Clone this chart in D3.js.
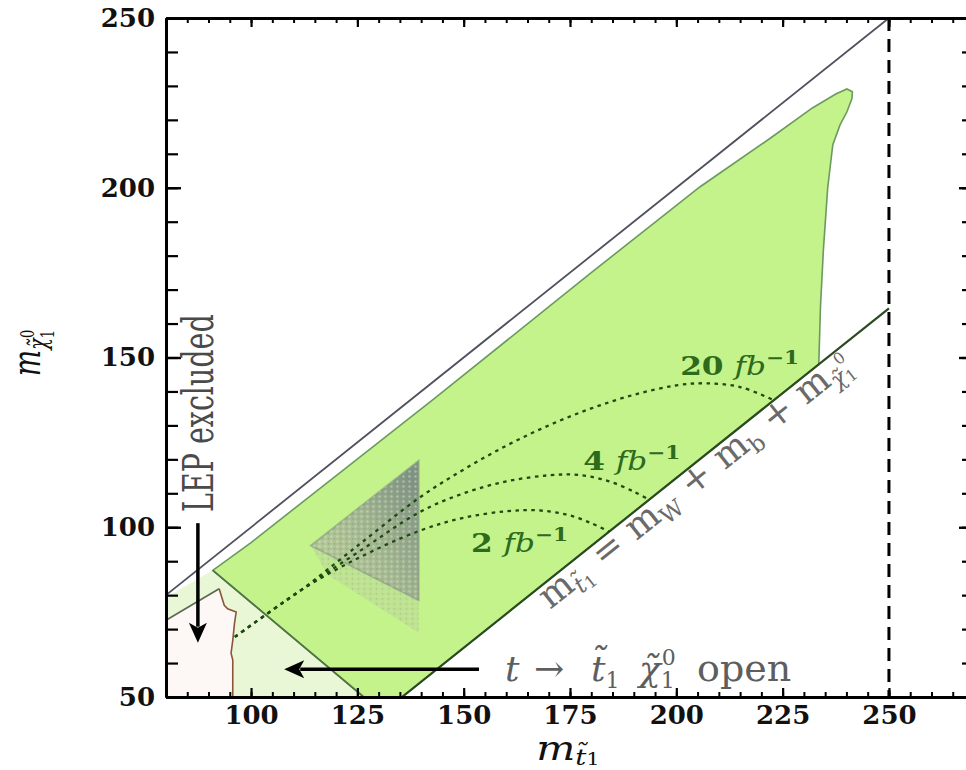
<!DOCTYPE html>
<html><head><meta charset="utf-8">
<script src="https://cdn.jsdelivr.net/npm/d3@7"></script>
<style>
html,body{margin:0;padding:0;background:#fff;}
svg{display:block;font-family:"DejaVu Serif",serif;}
</style></head><body>
<svg id="chart" width="966" height="770"></svg>
<script>
// ---------------- data ----------------
const xDomain = [80, 270];
const yDomain = [50, 250];
const xMajorTicks = [100, 125, 150, 175, 200, 225, 250];
const xTickLabels = ["100", "125", "150", "175", "200", "225", "250"];
const yMajorTicks = [50, 100, 150, 200, 250];
const yTickLabels = ["50", "100", "150", "200", "250"];
const xMinorStep = 5;
const yMinorStep = 10;

// m_chi = m_stop
const degenerateLine = [[80, 80], [250, 250]];
// m_stop = mW + mb + m_chi
const threeBodyLine = [[135.5, 50], [250, 164.5]];
// t -> stop chi kinematic edge
const topDecayLine = [[91, 87.3], [126.5, 50]];
// LEP exclusion contour
const lepCurve = [[80, 72.6], [92.5, 81.9], [93.7, 77.0], [94.5, 76.0], [96.5, 75.0], [96.1, 71.6],
                  [95.7, 66.7], [95.3, 62.9], [95.7, 60.9], [95.7, 50]];
// green (reach) region
const greenRegion = [[91, 87.3], [100, 95.5], [143, 137.8], [180, 175], [205.6, 200.3], [222, 214.5],
                     [232, 223.5], [237.5, 227.6], [240.1, 229.1], [241.4, 228.3], [241.3, 226.3],
                     [240.1, 222.3], [238.5, 218.5], [236.8, 212.7], [235.6, 200], [234.6, 182],
                     [233.9, 165], [233.5, 148], [135.5, 50], [126.5, 50]];
// pale (t -> stop chi open) region, upper-left edge
const paleTop = [[80, 79.4], [91, 87.3], [126.5, 50], [95.7, 50]];
// scan points (grey triangle)
const scanTriangle = [[114.1, 94.6], [139.4, 119.6], [139.4, 78.5]];
const scanTail = [[114.1, 94.6], [139.4, 78.5], [139.4, 69], [118, 86]];
// discovery contours
const curve2 = [[96.2, 67.7], [105, 75.6], [112, 81.7], [125, 90.8], [139.7, 99.0], [150, 102.8],
                [160, 104.7], [167, 105.0], [174, 103.8], [180, 101.2], [184.2, 98.7]];
const curve4 = [[96.2, 67.7], [105, 75.6], [112, 81.7], [125, 92.5], [139.7, 104.5], [150, 110],
                [160, 113.5], [170, 115.3], [177, 115.4], [184, 113.6], [190, 110.5], [193.5, 108.2]];
const curve20 = [[96.2, 67.7], [105, 75.6], [112, 81.7], [125, 94.5], [139.7, 108.8], [150, 117],
                 [160, 124], [170, 130], [180, 135], [190, 139], [200, 141.8], [207, 142.4],
                 [215, 141.3], [222.8, 137.5]];
const lumiLabels = ["2", "4", "20"];
const massLimitX = 250;

// ---------------- drawing ----------------
const svg = d3.select("#chart");
const x = d3.scaleLinear().domain(xDomain).range([166, 974]);
const y = d3.scaleLinear().domain(yDomain).range([697, 18]);
const line = d3.line().x(d => x(d[0])).y(d => y(d[1]));
const smooth = d3.line().x(d => x(d[0])).y(d => y(d[1])).curve(d3.curveCatmullRom);

const defs = svg.append("defs");
defs.append("clipPath").attr("id", "plotclip").append("rect")
  .attr("x", x(xDomain[0])).attr("y", y(yDomain[1]))
  .attr("width", x(xDomain[1]) - x(xDomain[0])).attr("height", y(yDomain[0]) - y(yDomain[1]));
const grad = defs.append("linearGradient").attr("id", "scangrad")
  .attr("x1", "1").attr("y1", "0.2").attr("x2", "0.1").attr("y2", "0.9");
grad.append("stop").attr("offset", "0").attr("stop-color", "#7a8a84");
grad.append("stop").attr("offset", "0.5").attr("stop-color", "#a3b394");
grad.append("stop").attr("offset", "1").attr("stop-color", "#b9cc9a");
const pat = defs.append("pattern").attr("id", "speckle").attr("width", 6).attr("height", 5)
  .attr("patternUnits", "userSpaceOnUse");
pat.append("circle").attr("cx", 1.5).attr("cy", 1.5).attr("r", 1.2).attr("fill", "#d4e8b6");
pat.append("circle").attr("cx", 4.5).attr("cy", 3.8).attr("r", 0.9).attr("fill", "#7d8f7a");

const plot = svg.append("g").attr("clip-path", "url(#plotclip)");

// LEP excluded (very faint pink)
plot.append("path").datum([[80, 50]].concat(lepCurve))
  .attr("d", d => line(d) + "Z").attr("fill", "#fdf7f5");
// pale region
plot.append("path").datum(paleTop.concat(lepCurve.slice().reverse()))
  .attr("d", d => line(d) + "Z").attr("fill", "#eaf7d6");
// green region
plot.append("path").datum(greenRegion)
  .attr("d", d => line(d) + "Z").attr("fill", "#c4f28b")
  .attr("stroke", "#6c9a5e").attr("stroke-width", 1.6);
// scan triangle
plot.append("path").datum(scanTail).attr("d", d => line(d) + "Z")
  .attr("fill", "#b5cc98").attr("opacity", 0.4);
plot.append("path").datum(scanTail).attr("d", d => line(d) + "Z")
  .attr("fill", "url(#speckle)").attr("opacity", 0.3);
plot.append("path").datum(scanTriangle).attr("d", d => line(d) + "Z")
  .attr("fill", "url(#scangrad)").attr("opacity", 0.92)
  .attr("stroke", "#7f8f86").attr("stroke-width", 2).attr("stroke-opacity", 0.6);
plot.append("path").datum(scanTriangle).attr("d", d => line(d) + "Z")
  .attr("fill", "url(#speckle)").attr("opacity", 0.5);

// lines
plot.append("path").datum(degenerateLine).attr("d", line)
  .attr("stroke", "#50505e").attr("stroke-width", 1.8).attr("fill", "none");
plot.append("path").datum(threeBodyLine).attr("d", line)
  .attr("stroke", "#2a4a22").attr("stroke-width", 2.2).attr("fill", "none");
plot.append("path").datum(topDecayLine).attr("d", line)
  .attr("stroke", "#4f7446").attr("stroke-width", 1.8).attr("fill", "none");
plot.append("path").datum(lepCurve.slice(0, 2)).attr("d", line)
  .attr("stroke", "#5d6a55").attr("stroke-width", 1.8).attr("fill", "none");
plot.append("path").datum(lepCurve.slice(1)).attr("d", line)
  .attr("stroke", "#8a5538").attr("stroke-width", 1.6).attr("fill", "none");

// discovery curves
[curve2, curve4, curve20].forEach(c => {
  plot.append("path").datum(c).attr("d", smooth)
    .attr("stroke", "#1d4a10").attr("stroke-width", 2.3).attr("fill", "none")
    .attr("stroke-dasharray", "3.5,4.5");
});

// vertical dashed line
plot.append("line").attr("x1", x(massLimitX)).attr("x2", x(massLimitX))
  .attr("y1", y(yDomain[1])).attr("y2", y(yDomain[0]))
  .attr("stroke", "#000").attr("stroke-width", 3).attr("stroke-dasharray", "13,8");

// ---------------- axes ----------------
const xMinor = d3.range(xDomain[0], xDomain[1] + 0.1, xMinorStep);
const yMinor = d3.range(yDomain[0], yDomain[1] + 0.1, yMinorStep);
function styleAxis(g, w) {
  g.selectAll(".domain").attr("stroke", "#000").attr("stroke-width", 3);
  g.selectAll(".tick line").attr("stroke", "#000").attr("stroke-width", w);
}
const fmtX = (d) => xTickLabels[xMajorTicks.indexOf(d)];
const fmtY = (d) => yTickLabels[yMajorTicks.indexOf(d)];

const gB = svg.append("g").attr("transform", `translate(0,${y(yDomain[0])})`);
gB.call(d3.axisBottom(x).tickValues(xMinor).tickSize(-5).tickSizeOuter(0).tickFormat(""));
styleAxis(gB, 2);
const gB2 = svg.append("g").attr("transform", `translate(0,${y(yDomain[0])})`);
gB2.call(d3.axisBottom(x).tickValues(xMajorTicks).tickSize(-9).tickSizeOuter(0).tickPadding(8).tickFormat(fmtX));
styleAxis(gB2, 2.2);
gB2.selectAll("text").attr("font-family", "DejaVu Serif").attr("font-weight", "bold")
  .attr("font-size", 26).attr("fill", "#111").attr("dy", "0.72em");

const gT = svg.append("g").attr("transform", `translate(0,${y(yDomain[1])})`);
gT.call(d3.axisTop(x).tickValues(xMinor).tickSize(-5).tickSizeOuter(0).tickFormat(""));
styleAxis(gT, 2);
const gT2 = svg.append("g").attr("transform", `translate(0,${y(yDomain[1])})`);
gT2.call(d3.axisTop(x).tickValues(xMajorTicks).tickSize(-9).tickSizeOuter(0).tickFormat(""));
styleAxis(gT2, 2.2);

const gL = svg.append("g").attr("transform", `translate(${x(xDomain[0])},0)`);
gL.call(d3.axisLeft(y).tickValues(yMinor).tickSize(-12).tickSizeOuter(0).tickFormat(""));
styleAxis(gL, 2.2);
const gL2 = svg.append("g").attr("transform", `translate(${x(xDomain[0])},0)`);
gL2.call(d3.axisLeft(y).tickValues(yMajorTicks).tickSize(-15).tickSizeOuter(0).tickPadding(11).tickFormat(fmtY));
styleAxis(gL2, 2.4);
gL2.selectAll("text").attr("font-family", "DejaVu Serif").attr("font-weight", "bold")
  .attr("font-size", 26).attr("fill", "#111");

const gR = svg.append("g").attr("transform", `translate(${x(xDomain[1])},0)`);
gR.call(d3.axisRight(y).tickValues(yMinor).tickSize(-12).tickSizeOuter(0).tickFormat(""));
styleAxis(gR, 2.2);
const gR2 = svg.append("g").attr("transform", `translate(${x(xDomain[1])},0)`);
gR2.call(d3.axisRight(y).tickValues(yMajorTicks).tickSize(-15).tickSizeOuter(0).tickFormat(""));
styleAxis(gR2, 2.4);

// ---------------- text ----------------
function txt(tx, ty, tr, opts) {
  return svg.append("text").attr("transform", `translate(${tx},${ty}) ${tr || ""}`)
    .attr("font-size", opts.size).attr("fill", opts.fill || "#000")
    .attr("text-anchor", opts.anchor || "start");
}

// x axis title
let t = txt(568, 760, "scale(1.25,1)", {size: 33, anchor: "middle", fill: "#111"});
t.append("tspan").attr("font-style", "italic").text("m");
t.append("tspan").attr("font-size", 22).attr("font-style", "italic").attr("dy", 5).text("t\u0303");
t.append("tspan").attr("font-size", 17).attr("dy", 0).text("1");

// y axis title
t = txt(40, 353, "scale(1.4,1) rotate(-90)", {size: 28, anchor: "middle", fill: "#111"});
t.append("tspan").attr("font-style", "italic").text("m");
t.append("tspan").attr("font-size", 19).attr("font-style", "italic").attr("dy", 5).text("\u03c7\u0303");
t.append("tspan").attr("font-size", 13).attr("dy", 5).text("1");
t.append("tspan").attr("font-size", 13).attr("dx", -8).attr("dy", -14).text("0");

// LEP excluded
t = txt(213, 512, "scale(1.5,1) rotate(-90)", {size: 28.5, fill: "#4a4a4a"});
t.text("LEP excluded");

// t -> stop chi open
t = txt(505, 681, "", {size: 36, fill: "#5e5e5e"});
t.append("tspan").attr("x", 0).attr("font-style", "italic").text("t");
t.append("tspan").attr("x", 29).text("\u2192");
t.append("tspan").attr("x", 86).attr("font-style", "italic").text("t\u0303");
t.append("tspan").attr("font-size", 22).attr("dy", 7).text("1");
t.append("tspan").attr("x", 134).attr("dy", -7).attr("font-style", "italic").text("\u03c7\u0303");
t.append("tspan").attr("font-size", 22).attr("dy", 7).text("1");
t.append("tspan").attr("font-size", 22).attr("dx", -13).attr("dy", -23).text("0");
t.append("tspan").attr("x", 192).attr("dy", 16).attr("font-size", 38).text("open");

// m_stop = mW + mb + mchi label along the line
const ang = -Math.atan((y(100) - y(200)) / (x(200) - x(100))) * 180 / Math.PI;
t = txt(x(170.3), y(75.6), `rotate(${ang})`, {size: 36, fill: "#6a6a6a"});
t.attr("letter-spacing", 0.5);
t.append("tspan").text("m");
t.append("tspan").attr("font-size", 23).attr("dy", 7).attr("font-style", "italic").text("t\u0303");
t.append("tspan").attr("font-size", 17).attr("dy", 2).text("1");
t.append("tspan").attr("dy", -9).text(" = m");
t.append("tspan").attr("font-size", 23).attr("dy", 7).text("W");
t.append("tspan").attr("dy", -7).text(" + m");
t.append("tspan").attr("font-size", 23).attr("dy", 7).text("b");
t.append("tspan").attr("dy", -7).text(" + m");
t.append("tspan").attr("font-size", 23).attr("dy", 7).attr("font-style", "italic").text("\u03c7\u0303");
t.append("tspan").attr("font-size", 16).attr("dy", 3).text("1");
t.append("tspan").attr("font-size", 16).attr("dx", -10).attr("dy", -21).text("0");

// luminosity labels
const lumiPos = [[151.7, 92.7], [178.1, 116.9], [200.9, 144.8]];
lumiLabels.forEach((lab, i) => {
  const tt = txt(x(lumiPos[i][0]), y(lumiPos[i][1]), "scale(1.2,1)", {size: 26, fill: "#2c6a1c"});
  tt.append("tspan").attr("font-weight", "bold").text(lab + " ");
  tt.append("tspan").attr("font-style", "italic").text("fb");
  tt.append("tspan").attr("font-size", 18).attr("font-weight", "bold").attr("dy", -11).text("\u22121");
});

// arrows
function arrow(x1, y1, x2, y2) {
  const dx = x2 - x1, dy = y2 - y1, L = Math.hypot(dx, dy);
  const ux = dx / L, uy = dy / L, hl = 20, hw = 9;
  const bx = x2 - ux * hl, by = y2 - uy * hl;
  svg.append("line").attr("x1", x1).attr("y1", y1).attr("x2", bx + ux * 4).attr("y2", by + uy * 4)
    .attr("stroke", "#000").attr("stroke-width", 3.5);
  svg.append("path").attr("d",
    `M${x2},${y2} L${bx - uy * hw},${by + ux * hw} L${bx + ux * 5},${by + uy * 5} L${bx + uy * hw},${by - ux * hw} Z`)
    .attr("fill", "#000");
}
arrow(x(87.5), y(101.2), x(87.5), y(66.0));
arrow(x(153.6), y(58.2), x(107.8), y(58.2));
</script>
</body></html>
